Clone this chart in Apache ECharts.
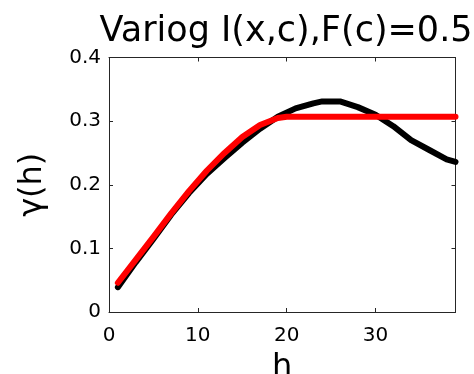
<!DOCTYPE html>
<html>
<head>
<meta charset="utf-8">
<script src="https://cdn.jsdelivr.net/npm/echarts@6/dist/echarts.min.js"></script>
<style>html,body{margin:0;padding:0;background:#fff}#c{width:474px;height:374px}</style>
</head>
<body>
<div id="c"></div>
<script>
// empirical variogram (black)
var blackH     = [1, 3, 5, 7, 9, 11, 13, 15, 17, 19, 21, 23, 24, 26, 28, 30, 32, 34, 36, 38, 39];
var blackGamma = [0.039, 0.078, 0.115, 0.153, 0.187, 0.217, 0.242, 0.266, 0.288, 0.307, 0.320, 0.328, 0.331, 0.331, 0.322, 0.310, 0.292, 0.270, 0.255, 0.240, 0.236];
// fitted model (red)
var redH     = [1, 3, 5, 7, 9, 11, 13, 15, 17, 19, 20, 39];
var redGamma = [0.046, 0.082, 0.118, 0.155, 0.190, 0.222, 0.250, 0.275, 0.294, 0.305, 0.307, 0.307];
var xTicks = [0, 10, 20, 30];
var yTicks = [0, 0.1, 0.2, 0.3, 0.4];

function pairs(xs, ys) { return xs.map(function (x, i) { return [x, ys[i]]; }); }

var font = 'DejaVu Sans';
var axisCol = '#262626';
var chart = echarts.init(document.getElementById('c'), null, {renderer: 'canvas'});
chart.setOption({
  animation: false,
  backgroundColor: '#fff',
  title: {
    text: 'Variog I(x,c),F(c)=0.5',
    left: 281, top: 9, textAlign: 'center',
    textStyle: {fontFamily: font, fontSize: 35, fontWeight: 'normal', color: '#000'}
  },
  grid: {left: 109, right: 18.5, top: 57.5, bottom: 62, containLabel: false, outerBoundsMode: 'none'},
  xAxis: [{
    type: 'value', min: 0, max: 39, interval: 10, position: 'bottom',
    name: 'h', nameLocation: 'middle', nameGap: 40,
    nameTextStyle: {fontFamily: font, fontSize: 32, color: '#000'},
    axisLine: {show: true, onZero: false, lineStyle: {color: axisCol, width: 1}},
    axisTick: {show: true, inside: true, length: 4, lineStyle: {color: axisCol}},
    axisLabel: {fontFamily: font, fontSize: 20, color: '#000', margin: 14, showMaxLabel: false,
      formatter: function (v) { return xTicks.indexOf(v) >= 0 ? String(v) : ''; }},
    splitLine: {show: false}
  }, {
    type: 'value', min: 0, max: 39, interval: 10, position: 'top',
    axisLine: {show: true, onZero: false, lineStyle: {color: axisCol, width: 1}},
    axisTick: {show: true, inside: true, length: 4, lineStyle: {color: axisCol}},
    axisLabel: {show: false}, splitLine: {show: false}
  }],
  yAxis: [{
    type: 'value', min: 0, max: 0.4, interval: 0.1, position: 'left',
    name: 'γ(h)', nameLocation: 'middle', nameGap: 60,
    nameTextStyle: {fontFamily: font, fontSize: 32, color: '#000'},
    axisLine: {show: true, onZero: false, lineStyle: {color: axisCol, width: 1}},
    axisTick: {show: true, inside: true, length: 4, lineStyle: {color: axisCol}},
    axisLabel: {fontFamily: font, fontSize: 20, color: '#000', margin: 8,
      formatter: function (v) { return String(Math.round(v * 10) / 10); }},
    splitLine: {show: false}
  }, {
    type: 'value', min: 0, max: 0.4, interval: 0.1, position: 'right',
    axisLine: {show: true, onZero: false, lineStyle: {color: axisCol, width: 1}},
    axisTick: {show: true, inside: true, length: 4, lineStyle: {color: axisCol}},
    axisLabel: {show: false}, splitLine: {show: false}
  }],
  series: [{
    type: 'line', data: pairs(blackH, blackGamma), showSymbol: false, symbol: 'none',
    lineStyle: {color: '#000', width: 6, cap: 'round', join: 'round'}, z: 2
  }, {
    type: 'line', data: pairs(redH, redGamma), showSymbol: false, symbol: 'none',
    lineStyle: {color: '#ff0000', width: 6, cap: 'round', join: 'round'}, z: 3
  }]
});
</script>
</body>
</html>
